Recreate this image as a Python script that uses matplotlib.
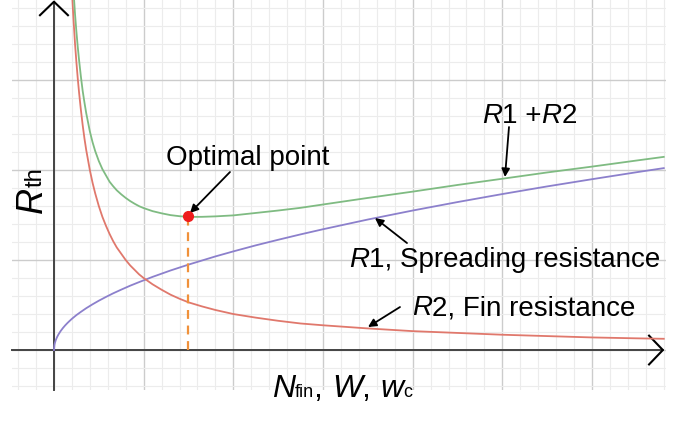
import matplotlib
matplotlib.use("Agg")
import matplotlib.pyplot as plt
from matplotlib.ticker import MultipleLocator
from matplotlib.transforms import IdentityTransform

# values, in grid units (1 unit = 1 major grid cell)
x_r1 = [0.0, 0.005, 0.01, 0.02, 0.035, 0.05, 0.075, 0.1, 0.125, 0.15, 0.175,
        0.2, 0.25, 0.3, 0.36, 0.43, 0.5, 0.58, 0.66, 0.75, 0.85, 0.95, 1.1,
        1.3, 1.5, 1.8, 2.0, 2.25, 2.5, 2.75, 3.0, 3.5, 4.0, 4.5, 5.0, 5.5,
        6.0, 6.5, 6.8]
r1 = [0.0, 0.055, 0.078, 0.11, 0.145, 0.173, 0.212, 0.245, 0.274, 0.30, 0.324,
      0.347, 0.388, 0.424, 0.465, 0.508, 0.548, 0.590, 0.630, 0.671, 0.715,
      0.755, 0.813, 0.884, 0.949, 1.040, 1.096, 1.163, 1.225, 1.285, 1.342,
      1.450, 1.550, 1.644, 1.733, 1.818, 1.898, 1.976, 2.021]

x_r2 = [0.2, 0.21, 0.22, 0.235, 0.25, 0.265, 0.28, 0.3, 0.32, 0.34, 0.36, 0.38,
        0.4, 0.43, 0.46, 0.5, 0.54, 0.58, 0.62, 0.66, 0.7, 0.75, 0.8, 0.85,
        0.9, 0.95, 1.0, 1.1, 1.2, 1.3, 1.4, 1.5, 1.65, 1.8, 2.0, 2.25, 2.5,
        2.75, 3.0, 3.5, 4.0, 4.5, 5.0, 5.5, 6.0, 6.5, 6.8]
r2 = [4.00, 3.81, 3.64, 3.40, 3.20, 3.02, 2.86, 2.67, 2.50, 2.35, 2.22, 2.11,
      2.00, 1.86, 1.74, 1.60, 1.48, 1.38, 1.29, 1.21, 1.14, 1.07, 1.00, 0.94,
      0.89, 0.84, 0.80, 0.73, 0.67, 0.615, 0.57, 0.53, 0.485, 0.445, 0.40,
      0.36, 0.325, 0.295, 0.275, 0.24, 0.21, 0.19, 0.17, 0.155, 0.14, 0.13,
      0.125]
r_sum = [4.30, 4.12, 3.96, 3.73, 3.54, 3.37, 3.22, 3.04, 2.88, 2.75,
         2.63, 2.53, 2.43, 2.31, 2.21, 2.10, 2.01, 1.94, 1.87, 1.82,
         1.775, 1.73, 1.69, 1.655, 1.625, 1.598, 1.577, 1.543, 1.519, 1.499,
         1.487, 1.479, 1.48, 1.485, 1.496, 1.523, 1.55, 1.58, 1.617, 1.69,
         1.76, 1.834, 1.903, 1.973, 2.038, 2.106, 2.146]

opt_x, opt_y = 1.5, 1.49

W, H = 678, 423
plt.rcParams["font.family"] = ["Liberation Sans", "DejaVu Sans"]

fig = plt.figure(figsize=(W / 100, H / 100), dpi=100)
ax = fig.add_axes([12 / W, (H - 390) / H, (666 - 12) / W, 390 / H])
ax.set_xlim(-0.468, 6.825)
ax.set_ylim(-0.444, 3.889)

ax.xaxis.set_major_locator(MultipleLocator(1))
ax.xaxis.set_minor_locator(MultipleLocator(0.2))
ax.yaxis.set_major_locator(MultipleLocator(1))
ax.yaxis.set_minor_locator(MultipleLocator(0.2))
ax.grid(which="major", color="#cccccc", lw=1.0)
ax.grid(which="minor", color="#ececec", lw=0.8)
ax.tick_params(which="both", length=0, labelbottom=False, labelleft=False)
for s in ax.spines.values():
    s.set_visible(False)
ax.set_axisbelow(True)

# axes with open arrow heads
ax.plot([0, 0], [-0.444, 3.87], color="#444444", lw=1.4, clip_on=False)
ax.plot([-0.468, 6.79], [0, 0], color="#444444", lw=1.4, clip_on=False)
ax.plot([-0.156, 0, 0.156], [3.72, 3.87, 3.72], color="black", lw=1.5, clip_on=False)
ax.plot([6.636, 6.79, 6.636], [0.16, 0, -0.16], color="black", lw=1.5, clip_on=False)

ax.plot(x_r1, r1, color="#8c80cc", lw=1.3)
ax.plot(x_r2, r2, color="#e0786c", lw=1.3)
ax.plot(x_r2, r_sum, color="#7fbb82", lw=1.3)
ax.plot([opt_x, opt_x], [0, opt_y], color="#f0913a", lw=1.6, ls=(0, (4, 3)))
ax.plot(opt_x, opt_y, "o", color="#ee1c1c", ms=7, zorder=5)


def px(x, y):
    # pixel position in the reference -> grid units
    return ((x - 54) / 89.67, (350 - y) / 90)


arrow = dict(arrowstyle="-|>", color="black", lw=1.3, mutation_scale=12,
             shrinkA=0, shrinkB=0)
for (x0, y0), (x1, y1) in [((230, 172), (190, 213)),
                           ((509, 127), (505, 177)),
                           ((407, 243), (375, 218)),
                           ((400, 307), (368, 327))]:
    ax.annotate("", xy=px(x1, y1), xytext=px(x0, y0), arrowprops=arrow)

renderer = fig.canvas.get_renderer()


def run(pieces, x, y, rot=0):
    # draw text pieces one after another on a common baseline (pixel coords)
    for s, size, style in pieces:
        t = fig.text(x, H - y, s, fontsize=size, style=style, rotation=rot,
                     rotation_mode="anchor", ha="left", va="baseline",
                     transform=IdentityTransform())
        bb = t.get_window_extent(renderer)
        if rot == 0:
            x += bb.width
        else:
            y -= bb.height


run([("Optimal point", 20, "normal")], 166, 165)
run([("R", 20, "italic"), ("1 +", 20, "normal"), ("R", 20, "italic"),
     ("2", 20, "normal")], 482, 123)
run([("R", 20, "italic"), ("1, Spreading resistance", 20, "normal")], 349, 267)
run([("R", 20, "italic"), ("2, Fin resistance", 20, "normal")], 412, 315)
run([("N", 23, "italic"), ("fin", 13, "normal"), (", ", 23, "normal"),
     ("W", 23, "italic"), (", ", 23, "normal"), ("w", 23, "italic"),
     ("c", 13, "normal")], 272, 397)
run([("R", 26, "italic"), ("th", 17, "normal")], 42, 213, rot=90)

fig.savefig("out.png", dpi=100)
